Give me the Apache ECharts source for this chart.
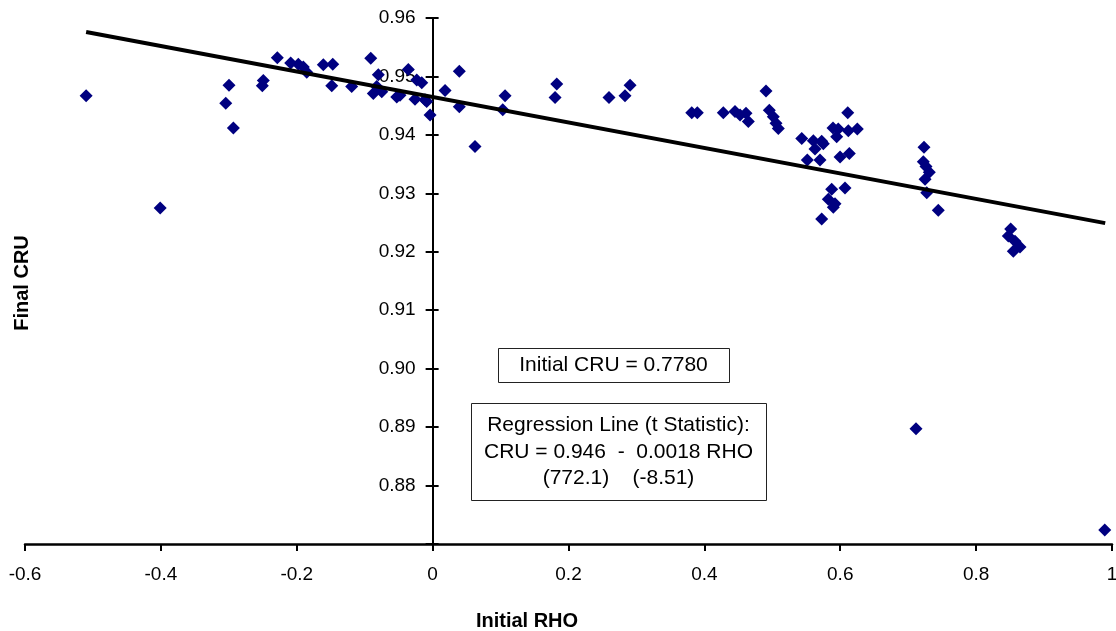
<!DOCTYPE html>
<html>
<head>
<meta charset="utf-8">
<script src="https://cdn.jsdelivr.net/npm/echarts@6/dist/echarts.min.js"></script>
<style>
html,body{margin:0;padding:0;background:#fff;}
#chart{width:1116px;height:631px;}
</style>
</head>
<body>
<div id="chart"></div>
<script>
// Initial RHO (x) and Final CRU (y)
const rhoValues = [
  -0.510, -0.401, -0.3045, -0.2997, -0.2933, -0.2492, -0.2507, -0.2286, -0.2089, -0.1977,
  -0.1903, -0.1853, -0.1609, -0.1470, -0.1485, -0.1191, -0.0911, -0.0799, -0.0873, -0.0749,
  -0.0823, -0.0528, -0.0480, -0.0358, -0.0234, -0.0160, -0.0259, -0.0087, -0.0112, -0.0038,
  0.0183, 0.0393, 0.0393, 0.0624, 0.1066, 0.1032, 0.1827, 0.1802, 0.2596, 0.2832,
  0.2906, 0.3814, 0.3896, 0.4279, 0.4451, 0.4525, 0.4613, 0.4647, 0.4907, 0.4956,
  0.5015, 0.5054, 0.5088, 0.5433, 0.5604, 0.5727, 0.5751, 0.5893, 0.6110, 0.5971,
  0.6119, 0.6251, 0.5948, 0.5628, 0.5515, 0.5702, 0.5997, 0.6133, 0.5874, 0.6070,
  0.5824, 0.5923, 0.5898, 0.5727, 0.7233, 0.7223, 0.7262, 0.7311, 0.7248, 0.7273,
  0.7443, 0.8509, 0.8474, 0.8572, 0.8646, 0.8547, 0.7115, 0.9893
];
const cruValues = [
  0.9467, 0.9275, 0.9454, 0.9485, 0.9412, 0.9493, 0.9484, 0.9532, 0.9523, 0.9521,
  0.9516, 0.9507, 0.9520, 0.9521, 0.9484, 0.9483, 0.9531, 0.9503, 0.9471, 0.9474,
  0.9483, 0.9465, 0.9468, 0.9512, 0.9494, 0.9489, 0.9461, 0.9457, 0.9460, 0.9434,
  0.9476, 0.9509, 0.9448, 0.9380, 0.9467, 0.9443, 0.9487, 0.9464, 0.9464, 0.9467,
  0.9485, 0.9438, 0.9438, 0.9438, 0.9440, 0.9434, 0.9437, 0.9423, 0.9475, 0.9442,
  0.9431, 0.9420, 0.9411, 0.9394, 0.9390, 0.9389, 0.9385, 0.9412, 0.9438, 0.9410,
  0.9407, 0.9410, 0.9397, 0.9376, 0.9357, 0.9357, 0.9362, 0.9368, 0.9307, 0.9309,
  0.9290, 0.9282, 0.9276, 0.9256, 0.9379, 0.9354, 0.9346, 0.9336, 0.9324, 0.9301,
  0.9271, 0.9239, 0.9227, 0.9218, 0.9208, 0.9201, 0.8897, 0.8724
];
// Regression line end points
const regRho = [-0.51, 0.99];
const regCru = [0.9576, 0.9249];

const xTickLabels = ['-0.6', '-0.4', '-0.2', '0', '0.2', '0.4', '0.6', '0.8', '1'];
const yTickLabels = ['', '0.88', '0.89', '0.90', '0.91', '0.92', '0.93', '0.94', '0.95', '0.96'];

const boxText1 = 'Initial CRU = 0.7780';
const boxText2 = ['Regression Line (t Statistic):', 'CRU = 0.946  -  0.0018 RHO', '(772.1)    (-8.51)'];

const FONT = '"Liberation Sans", Arial, sans-serif';

const points = rhoValues.map((x, i) => [x, cruValues[i]]);
const regLine = regRho.map((x, i) => [x, regCru[i]]);

const GRID_LEFT = 25, GRID_RIGHT = 4;
const chartW = 1116;
const X_MIN = -0.6, X_MAX = 1;
// shift the y axis so it crosses the x axis at RHO = 0
const yShift = -(0 - X_MIN) / (X_MAX - X_MIN) * (chartW - GRID_LEFT - GRID_RIGHT);

const chart = echarts.init(document.getElementById('chart'), null, {renderer: 'canvas'});

const yBase = {
  type: 'value', min: 0.87, max: 0.96, interval: 0.01,
  position: 'left', offset: yShift,
  splitLine: {show: false}
};

chart.setOption({
  animation: false,
  backgroundColor: '#fff',
  grid: {left: GRID_LEFT, right: GRID_RIGHT, top: 18, bottom: 87, containLabel: false, outerBoundsMode: 'none'},
  xAxis: {
    type: 'value', min: X_MIN, max: X_MAX, interval: 0.2,
    axisLine: {onZero: false, lineStyle: {color: '#000', width: 2.5}},
    axisTick: {show: true, length: 7, lineStyle: {color: '#000', width: 2}},
    splitLine: {show: false},
    axisLabel: {
      color: '#000', fontSize: 19, fontFamily: FONT, margin: 21,
      formatter: function (v) { return xTickLabels[Math.round((v - X_MIN) / 0.2)]; }
    }
  },
  yAxis: [
    Object.assign({}, yBase, {
      axisLine: {onZero: false, lineStyle: {color: '#000', width: 2}},
      axisTick: {show: true, length: 7, lineStyle: {color: '#000', width: 2}},
      axisLabel: {
        color: '#000', fontSize: 19, fontFamily: FONT, margin: 17,
        formatter: function (v) { return yTickLabels[Math.round((v - 0.87) / 0.01)]; }
      }
    }),
    Object.assign({}, yBase, {
      axisLine: {show: false, onZero: false},
      axisTick: {show: true, inside: true, length: 6, lineStyle: {color: '#000', width: 2}},
      axisLabel: {show: false}
    })
  ],
  series: [
    {
      type: 'scatter', data: points, symbol: 'diamond', symbolSize: 13,
      itemStyle: {color: '#000080', opacity: 1}, z: 3
    },
    {
      type: 'line', data: regLine, symbol: 'none',
      lineStyle: {color: '#000', width: 4}, z: 4
    }
  ],
  graphic: [
    {
      type: 'text', x: 527, y: 621,
      style: {text: 'Initial RHO', font: 'bold 20px ' + FONT, fill: '#000', align: 'center', verticalAlign: 'middle'}
    },
    {
      type: 'text', x: 22, y: 283, rotation: Math.PI / 2,
      style: {text: 'Final CRU', font: 'bold 20px ' + FONT, fill: '#000', align: 'center', verticalAlign: 'middle'}
    },
    {
      type: 'rect', shape: {x: 498.5, y: 348.5, width: 231, height: 34},
      style: {fill: '#fff', stroke: '#222', lineWidth: 1}, z: 10
    },
    {
      type: 'text', x: 613.5, y: 365.5, z: 11,
      style: {text: boxText1, font: '21px ' + FONT, fill: '#000', align: 'center', verticalAlign: 'middle'}
    },
    {
      type: 'rect', shape: {x: 471.5, y: 403.5, width: 295, height: 97},
      style: {fill: '#fff', stroke: '#222', lineWidth: 1}, z: 10
    },
    {
      type: 'text', x: 618.5, y: 425.5, z: 11,
      style: {text: boxText2[0], font: '21px ' + FONT, fill: '#000', align: 'center', verticalAlign: 'middle'}
    },
    {
      type: 'text', x: 618.5, y: 452, z: 11,
      style: {text: boxText2[1], font: '21px ' + FONT, fill: '#000', align: 'center', verticalAlign: 'middle'}
    },
    {
      type: 'text', x: 618.5, y: 478.5, z: 11,
      style: {text: boxText2[2], font: '21px ' + FONT, fill: '#000', align: 'center', verticalAlign: 'middle'}
    }
  ]
});
</script>
</body>
</html>
